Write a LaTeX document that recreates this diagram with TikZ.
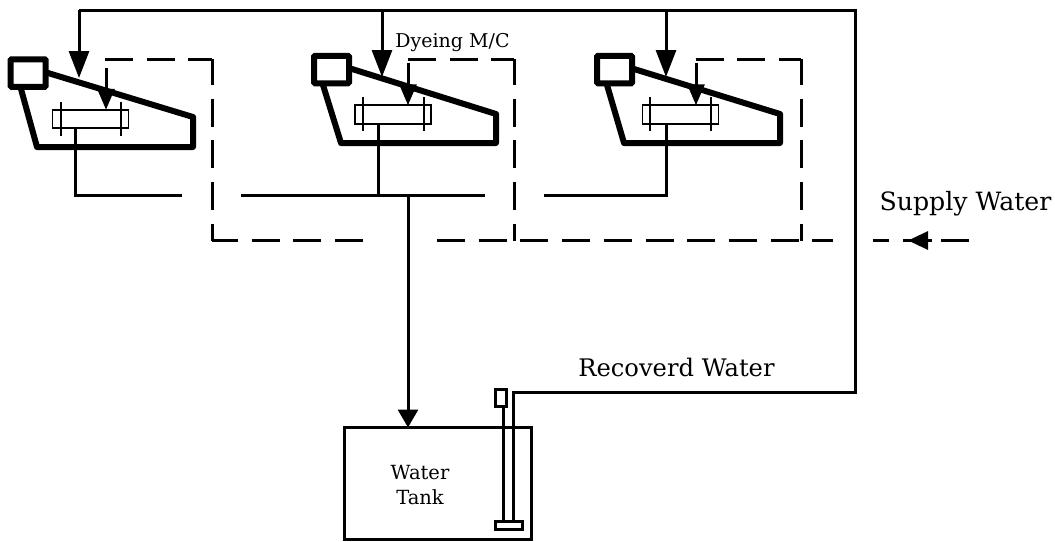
\documentclass[tikz,border=0pt]{standalone}
\usepackage{fontspec}
\setmainfont{DejaVu Serif}
\usetikzlibrary{arrows.meta}
\tikzset{
  x=1pt,y=-1pt,
  pipe/.style={line width=3pt,line join=miter},
  thickbody/.style={line width=6pt,line join=round,line cap=round},
  heavybox/.style={draw,line width=6pt,rounded corners=1pt,inner sep=0pt,outer sep=0pt,minimum width=35pt,minimum height=27.5pt},
  inbox/.style={draw,line width=1.6pt,inner sep=0pt,outer sep=0pt,minimum width=76pt,minimum height=18.5pt},
  tick/.style={line width=1.9pt},
  dashline/.style={line width=3pt,dash pattern=on 28pt off 13.7pt},
  dashcol/.style={dashline,dash phase=2pt},
  bighead/.style={-{Triangle[length=27pt,width=20pt]},pipe},
  smallhead/.style={-{Triangle[length=21pt,width=17pt]},pipe},
  tankhead/.style={-{Triangle[length=18pt,width=20pt]},pipe},
  label/.style={inner sep=0pt,outer sep=0pt,align=center},
}
\begin{document}
\begin{tikzpicture}
\useasboundingbox (0,0) rectangle (1055,541);
\node[heavybox] (boxA) at (28.2,73) {};
\node[heavybox] (boxB) at (331.5,69.5) {};
\node[heavybox] (boxC) at (614.5,69.5) {};
\node[inbox] (inA) at (90.5,119) {};
\node[inbox] (inB) at (393,114.5) {};
\node[inbox] (inC) at (680.5,114.5) {};
% bodies
\draw[thickbody] (48,73) -- (193,117) -- (193,147) -- (37,147) -- (21,89);
\draw[thickbody] (352,69) -- (496,114) -- (496,143) -- (341,143) -- (323,85);
\draw[thickbody] (634,69) -- (780,114) -- (780,143) -- (624,143) -- (607,85);
% ticks
\draw[tick] (61,102) -- (61,136);
\draw[tick] (121,102) -- (121,136);
\draw[tick] (363,97) -- (363,131);
\draw[tick] (424,97) -- (424,131);
\draw[tick] (650,97) -- (650,131);
\draw[tick] (711,97) -- (711,131);
% supply arrows
\coordinate (cornerTL) at (79,10);
\coordinate (cornerTR) at (855,10);
\coordinate (cornerR) at (855,392);
\coordinate (feedB) at (382,10);
\coordinate (feedC) at (666,10);
\coordinate (tipA) at (79,78);
\coordinate (tipB) at (382,77);
\coordinate (tipC) at (666,77);
\coordinate (riser) at (513,392);
\coordinate (floatx) at (503,0);
\node[draw,line width=3pt,inner sep=0pt,outer sep=0pt,minimum width=27pt,minimum height=7.5pt] (plate) at (508.5,525.5) {};
\node[draw,line width=3pt,inner sep=0pt,outer sep=0pt,minimum width=11pt,minimum height=17pt] (float) at (500.5,397.5) {};
\node[draw,line width=3.2pt,inner sep=0pt,outer sep=0pt,minimum width=187pt,minimum height=112pt] (tank) at (438,483.5) {};
\draw[pipe] (cornerTL) -- (cornerTR) -- (cornerR) -- (riser) -- (riser |- plate.north);
\draw[pipe] (floatx |- float.south) -- (floatx |- plate.north);
\draw[bighead] (cornerTL) -- (tipA);
\draw[bighead] (feedB) -- (tipB);
\draw[bighead] (feedC) -- (tipC);
% small arrows
\coordinate (smA) at (106,68);
\coordinate (smB) at (408,63);
\coordinate (smC) at (696,63);
\draw[smallhead] (smA) -- (smA |- inA.north);
\draw[smallhead] (smB) -- (smB |- inB.north);
\draw[smallhead] (smC) -- (smC |- inC.north);
% recovered-water collector
\coordinate (dropA) at (75,195);
\coordinate (dropB) at (378,195);
\coordinate (dropC) at (666,195);
\coordinate (endA) at (182,195);
\coordinate (startB) at (241,195);
\coordinate (endB) at (485,195);
\coordinate (endC) at (544,195);
\coordinate (junction) at (408,195);
\draw[pipe] (dropA |- inA.south) -- (dropA) -- (endA);
\draw[pipe] (startB) -- (endB);
\draw[pipe] (dropB |- inB.south) -- (dropB);
\draw[pipe] (dropC |- inC.south) -- (dropC) -- (endC);
\draw[tankhead] (junction) -- (junction |- tank.north);
% dashed supply
\coordinate (dA) at (105,59);
\coordinate (dAc) at (212,59);
\coordinate (dAb) at (212,240.5);
\coordinate (dB) at (408,59);
\coordinate (dBc) at (514,59);
\coordinate (dBb) at (514,240.5);
\coordinate (dC) at (695.5,59);
\coordinate (dCc) at (801,59);
\coordinate (dCb) at (801,240.5);
\coordinate (bEnd1) at (364,240.5);
\coordinate (bStart2) at (437,240.5);
\coordinate (bEnd2) at (833,240.5);
\coordinate (sEnd) at (889,240.5);
\coordinate (sStart) at (873,240.5);
\coordinate (sMid) at (932,240.5);
\coordinate (sMidL) at (903,240.5);
\coordinate (sHead) at (908,240.5);
\coordinate (sRight) at (969,240.5);
\coordinate (sRightL) at (941,240.5);
\draw[dashline] (dA) -- (dAc);
\draw[dashline] (dB) -- (dBc);
\draw[dashline] (dC) -- (dCc);
\draw[dashcol] (dAc) -- (dAb);
\draw[dashcol] (dBc) -- (dBb);
\draw[dashcol] (dCc) -- (dCb);
\draw[dashcol] (dAb) -- (bEnd1);
\draw[dashline] (bStart2) -- (bEnd2);
\draw[pipe] (sStart) -- (sEnd);
\draw[pipe] (sRightL) -- (sRight);
\draw[-{Triangle[length=20pt,width=18pt]},pipe] (sMid) -- (sHead);
\draw[pipe] (sMidL) -- (sMid);
% labels
\node[label,font=\fontsize{19}{22}\selectfont] (dye) at (452.5,43) {Dyeing M/C};
\node[label,font=\fontsize{25.2}{30}\selectfont] (supply) at (965.5,204) {Supply Water};
\node[label,font=\fontsize{24.2}{29}\selectfont] (recov) at (676.5,367) {Recoverd Water};
\node[label,font=\fontsize{19.5}{25}\selectfont] (wt) at (420,485) {Water\\Tank};
\end{tikzpicture}
\end{document}
